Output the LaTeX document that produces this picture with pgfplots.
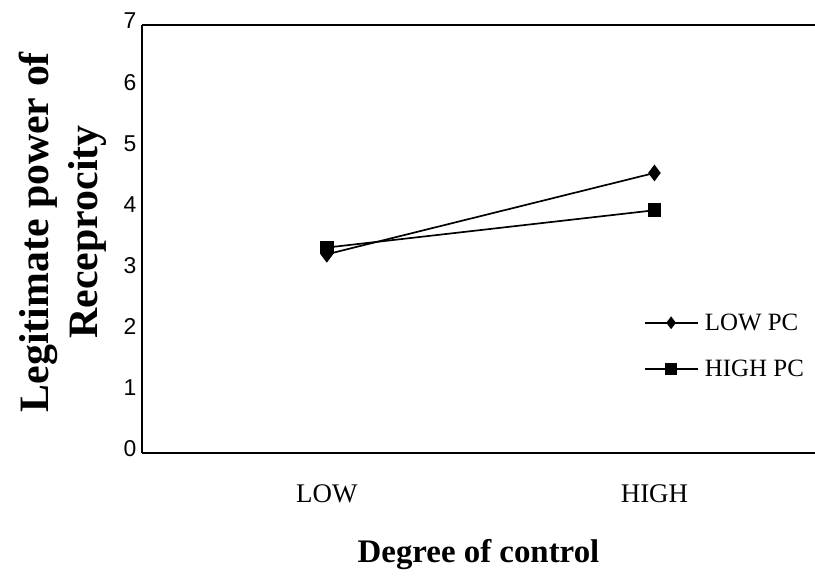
\documentclass[border=0pt]{standalone}
\usepackage{pgfplots}
\pgfplotsset{compat=1.18}
\usepackage{fontspec}
\setmainfont{Liberation Serif}
\newfontfamily\arialfont{Liberation Sans}
\begin{document}
\begin{tikzpicture}
\useasboundingbox (-142bp,-123bp) rectangle (673bp,453bp);
\begin{axis}[
  at={(0,0)}, anchor=south west,
  scale only axis,
  width=673bp, height=428bp,
  xmin=0.436, xmax=2.49,
  ymin=0, ymax=7,
  axis x line*=box,
  axis y line*=left,
  axis line style={line width=1.5pt},
  xtick={1,2}, xticklabels={LOW,HIGH},
  ytick={0,1,2,3,4,5,6,7},
  major tick length=0pt,
  xticklabel style={font=\fontsize{27}{30}\selectfont, yshift=-28bp},
  yticklabel style={font=\arialfont\fontsize{23}{25}\selectfont, xshift=-2bp, yshift=4bp},
  /pgf/number format/assume math mode=true,
  xlabel={\textbf{Degree of control}},
  xlabel style={font=\fontsize{33}{36}\selectfont, yshift=-30bp},
  ylabel={\textbf{Legitimate power of}\\\textbf{Receprocity}},
  ylabel style={font=\fontsize{42}{50}\selectfont, align=center, yshift=10bp, xshift=7bp},
  legend style={draw=none, fill=none, at={(0.746,0.335)}, anchor=north west,
    font=\fontsize{25}{28}\selectfont, row sep=24bp, cells={anchor=west},
    inner xsep=0pt, nodes={inner xsep=6bp}},
  legend image code/.code={\draw[#1, mark repeat=2, mark phase=2, mark size=5bp]
    plot coordinates {(0bp,0bp)(26bp,0bp)(53bp,0bp)};},
]
\addplot[black, line width=1.7pt, mark=diamond*, mark size=7bp] coordinates {(1,3.25) (2,4.58)};
\addlegendentry{LOW PC}
\addplot[black, line width=1.7pt, mark=square*, mark size=6bp] coordinates {(1,3.36) (2,3.97)};
\addlegendentry{HIGH PC}
\end{axis}
\end{tikzpicture}
\end{document}
